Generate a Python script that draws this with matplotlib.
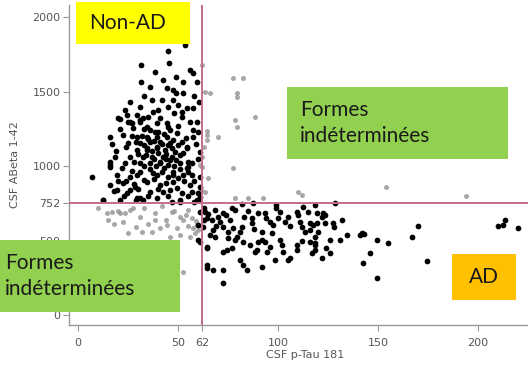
"""
Scatter of CSF ABeta 1-42 vs CSF p-Tau 181 with cut-offs and category boxes.
"""

##### Imports #####
import numpy as np
import matplotlib
matplotlib.use("Agg")
import matplotlib.pyplot as plt
from matplotlib.patches import Rectangle

##### Data #####
# cut-offs
tau_cut = 62
abeta_cut = 752

x_ticks = [0, 50, 62, 100, 150, 200]
y_ticks = [0, 500, 752, 1000, 1500, 2000]

# black points, upper-left (Non-AD)
nonad_tau = [53.5, 45, 31.5, 45.5, 38.5, 56, 57.5, 31.5, 42.5, 52.5, 59.5, 44.5, 47.5, 52.5, 26, 37, 42, 47.5,
             60.5, 31, 45, 54.5, 57.5, 23.5, 37.5, 52, 20, 24.5, 29.5, 32.5, 41, 52, 26, 31, 39.5, 44.5, 59.5,
             27.5, 34.5, 38.5, 46, 57.5, 60, 16, 22.5, 29.5, 34.5, 39.5, 44.5, 49.5, 57.5, 25, 31, 36, 41, 46,
             52, 54.5, 29.5, 34.5, 39.5, 43.5, 48.5, 61, 18.5, 26, 32.5, 37, 42.5, 47, 52.5, 16, 23.5, 31, 36,
             41, 45, 51, 55, 7, 19.5, 29.5, 39.5, 47.5, 57, 61,
             21, 25, 31, 16, 16, 16, 22.5, 19.5, 24.5, 12.5, 21, 29.5, 26, 28.5,
             47.5, 50, 54.5, 34.5, 39.5, 51, 55, 41, 46, 37.5, 47.5, 52.5, 54.5, 34.5, 41, 47.5, 56, 36, 42.5,
             49.5, 57, 61, 31, 39.5, 51, 59.5,
             33, 36, 40, 43, 35, 38, 42, 45, 33, 37, 40, 44, 47, 30, 34, 38, 44, 49, 28, 33, 39, 43, 48, 51,
             27, 31, 36, 42, 45, 50, 24, 28, 33, 38, 44, 53, 26, 30, 40, 46, 52, 23, 35, 45, 55, 29, 47, 58,
             18, 20, 22, 19, 24, 21, 27, 17, 35, 48, 40, 33, 50, 56, 58, 36, 49, 27, 29,
             32, 45, 50, 54, 59, 60, 57, 55, 58, 61, 60, 49, 12.7, 32.7, 51, 60.2]
nonad_abeta = [1815, 1774, 1680, 1693, 1633, 1646, 1626, 1566, 1579, 1566, 1566, 1525, 1512, 1492, 1431, 1445,
               1445, 1445, 1431, 1398, 1398, 1391, 1391, 1378, 1364, 1364, 1324, 1344, 1344, 1324, 1324, 1331,
               1297, 1297, 1290, 1290, 1297, 1256, 1263, 1230, 1243, 1243, 1230, 1196, 1210, 1196, 1196, 1196,
               1196, 1223, 1196, 1156, 1156, 1163, 1163, 1156, 1163, 1129, 1109, 1109, 1122, 1109, 1095, 1095,
               1062, 1062, 1062, 1062, 1062, 1062, 1089, 1008, 1021, 1021, 1021, 1021, 1008, 1021, 995, 927,
               941, 941, 941, 941, 941, 927,
               1317, 1297, 1310, 1028, 995, 873, 887, 840, 820, 773, 773, 786, 927, 860,
               1176, 1142, 1122, 1122, 1129, 1075, 1028, 1028, 1042, 954, 961, 941, 988, 894, 873, 894, 873,
               827, 827, 853, 827, 793, 786, 786, 773, 773,
               1250, 1240, 1230, 1215, 1180, 1170, 1150, 1140, 1140, 1100, 1090, 1085, 1120, 1080, 1075, 1050,
               1050, 1040, 1030, 1000, 1000, 990, 1000, 980, 970, 960, 980, 960, 930, 920, 900, 880, 910, 915,
               890, 900, 840, 850, 850, 840, 820, 800, 800, 800, 800, 770, 760, 760,
               830, 900, 985, 1100, 1130, 1250, 1200, 1150, 1330, 1360, 1380, 1470,
               1410, 1300, 1470, 1530, 1600, 1290, 1160, 1200, 1260, 1270, 1190, 1150, 1050, 1020, 960, 900,
               860, 820, 1490, 773, 773, 761, 773]

# black points, lower-right (AD)
ad_tau = [81.8, 87.7, 99, 99, 112.5, 118.5, 128.5,
          63.5, 68.5, 72.5, 78.5, 90, 93.5, 101, 109.5, 110, 115, 119.5, 122.5, 122, 123.5,
          64.5, 67, 71, 76, 87, 87, 96, 97.5, 103.5, 111, 112, 113.5, 117.5, 116, 119.5, 123.5, 127.5,
          62.5, 67.5, 72.5, 75, 77.5, 82, 81, 79.5, 78.5, 92, 97, 66, 68.5, 116, 118.5,
          82.5, 90, 92, 93.5, 101, 102, 102.5, 109.5, 109.5, 116, 118.5, 118.5, 118.5,
          126, 131, 134.5, 141, 142, 143, 149.5, 155,
          64.5, 72.5, 74.5, 77, 89.5, 88.5, 94.5, 98.5, 105, 106, 117, 122, 126, 146,
          81, 82.5, 84.5, 92, 64.5, 67.5, 72.5, 72.5, 142.5, 149.5, 167, 170, 174.5, 210, 212.5, 213.5, 220,
          61, 60.2, 61, 64.3, 64.3, 60.2,
          63, 65, 63, 69, 70, 74, 77, 83, 85, 88, 94, 100, 105, 106, 112, 120, 128, 132, 86, 96, 75, 124]
ad_abeta = [744, 752, 739, 719, 726, 739, 752,
            692, 705, 685, 705, 685, 685, 692, 692, 672, 692, 685, 685, 659, 672,
            652, 638, 625, 638, 652, 618, 625, 605, 625, 625, 591, 558, 605, 618, 618, 618, 618,
            591, 571, 591, 558, 585, 591, 558, 524, 504, 558, 551, 538, 524, 571, 524,
            491, 491, 504, 491, 504, 470, 423, 470, 437, 491, 470, 437, 484,
            504, 504, 538, 538, 551, 545, 504, 484,
            450, 423, 437, 450, 437, 423, 423, 370, 370, 383, 417, 383, 417, 417,
            370, 336, 302, 323, 316, 302, 302, 215, 350, 249, 524, 598, 363, 598, 605, 638, 585,
            694, 605, 493, 457, 336, 504,
            720, 680, 640, 600, 660, 670, 720, 660, 700, 575, 650, 650, 660, 600, 500, 560, 590, 640, 470, 460, 520, 450]

# grey points (undetermined)
grey_tau = [62, 77.5, 82.5, 63.5, 66, 79.5, 79.5, 78.5, 79.5, 88.5, 64.5, 64.5, 70, 77.5, 62, 65, 63.5,
            78.5, 85, 92.5, 110, 112, 154, 194, 63, 62, 64.5, 61, 61.5,
            14.3, 16.8, 15.2, 21, 23.5, 22.7, 26, 27.7, 31, 38.5, 38.5, 46.8, 51, 52.7, 55, 25.2, 31.8, 36.8,
            41, 44.3, 49.3, 46, 51, 57.5, 59.5, 58.5, 56, 25, 52.7, 20, 10, 33, 42, 48, 54, 57, 59, 60, 55,
            44, 35, 29, 18]
grey_abeta = [1680, 1593, 1593, 1499, 1492, 1492, 1465, 1310, 1263, 1331, 1210, 1176, 1196, 988, 995, 921, 827,
              786, 786, 786, 827, 806, 862, 800, 1130, 1060, 1236, 1008, 840,
              683, 694, 638, 683, 683, 627, 705, 717, 661, 683, 638, 694, 661, 638, 705, 549, 560, 560,
              582, 605, 582, 526, 538, 585, 605, 551, 526, 493, 291, 700, 720, 720, 730, 700, 670, 650, 630,
              570, 600, 640, 610, 590, 610]

W, H = 528, 365

def fx(px):
    return px / W

def fy(py):
    return 1 - py / H

fig = plt.figure(figsize=(W / 100, H / 100), dpi=100)
ax = fig.add_axes([fx(69), fy(325), (528 - 69) / W, (325 - 5) / H])

ax.scatter(grey_tau, grey_abeta, s=13, c='#939393', alpha=0.8, linewidths=0, zorder=2)
ax.scatter(nonad_tau, nonad_abeta, s=17, c='black', linewidths=0, zorder=3)
ax.scatter(ad_tau, ad_abeta, s=17, c='black', linewidths=0, zorder=3)

line_col = '#c46c8c'
ax.axvline(tau_cut, color=line_col, lw=1.4, zorder=4)
ax.axhline(abeta_cut, color=line_col, lw=1.4, zorder=4)

ax.set_xlim(-4.5, 225)
ax.set_ylim(-67, 2083)
ax.set_xticks(x_ticks)
ax.set_yticks(y_ticks)
for s in ['top', 'right']:
    ax.spines[s].set_visible(False)
for s in ['left', 'bottom']:
    ax.spines[s].set_color('#9a9a9a')
    ax.spines[s].set_linewidth(1.0)
ax.tick_params(axis='both', direction='out', length=4, width=0.8, color='#9a9a9a',
               labelsize=8, labelcolor='#555555')
ax.tick_params(axis='x', pad=5)
ax.tick_params(axis='y', pad=2)

fig.text(fx(15), fy(165), "CSF ABeta 1-42", rotation=90, ha='center', va='center',
         fontsize=8, color='#555555')
fig.text(fx(305), fy(355), "CSF p-Tau 181", ha='center', va='center',
         fontsize=8, color='#555555')

# --- category boxes ---
def box(x0, y0, x1, y1, color):
    fig.add_artist(Rectangle((fx(x0), fy(y1)), fx(x1) - fx(x0), fy(y0) - fy(y1),
                             transform=fig.transFigure, facecolor=color, edgecolor='none', zorder=10))

box(76, 2, 190, 44, '#ffff00')
fig.text(fx(128), fy(23), "Non-AD", ha='center', va='center', fontsize=15,
         family='Lato', color='#1a1a1a', zorder=11)

box(287, 87, 508, 159, '#92d050')
fig.text(fx(300), fy(123), "Formes\nindéterminées", ha='left', va='center', fontsize=15,
         family='Lato', color='#1a1a1a', linespacing=1.35, zorder=11)

box(0, 240, 180, 312, '#92d050')
fig.text(fx(5), fy(276), "Formes\nindéterminées", ha='left', va='center', fontsize=15,
         family='Lato', color='#1a1a1a', linespacing=1.35, zorder=11)

box(452, 254, 516, 300, '#ffc000')
fig.text(fx(484), fy(277), "AD", ha='center', va='center', fontsize=15,
         family='Lato', color='#1a1a1a', zorder=11)

plt.savefig("out.png", dpi=100)
